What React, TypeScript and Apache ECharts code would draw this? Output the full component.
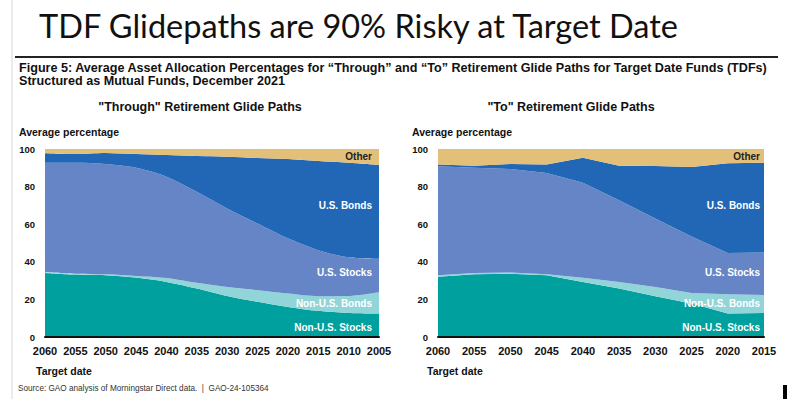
import React, { useEffect, useRef } from "react";
import * as echarts from "echarts";

const throughYears = ["2060", "2055", "2050", "2045", "2040", "2035", "2030", "2025", "2020", "2015", "2010", "2005"];
const throughNonUSStocks = [34.1, 33.2, 32.9, 31.6, 29.3, 25.8, 21.8, 18.7, 16.0, 13.9, 12.8, 12.5];
const throughNonUSBonds = [0.5, 0.5, 0.5, 0.9, 2.1, 3.0, 4.8, 6.2, 7.1, 7.8, 9.0, 11.3];
const throughUSStocks = [58.1, 59.0, 58.6, 57.5, 53.9, 48.5, 41.8, 35.5, 29.4, 24.5, 20.6, 17.8];
const throughUSBonds = [5.0, 4.6, 5.9, 7.3, 11.5, 19.0, 27.5, 34.8, 42.2, 47.4, 50.3, 49.9];
const throughOther = [2.3, 2.7, 2.1, 2.7, 3.2, 3.7, 4.1, 4.8, 5.3, 6.4, 7.3, 8.5];

const toYears = ["2060", "2055", "2050", "2045", "2040", "2035", "2030", "2025", "2020", "2015"];
const toNonUSStocks = [32.0, 33.4, 33.7, 32.9, 29.3, 25.8, 21.7, 17.8, 12.5, 12.8];
const toNonUSBonds = [0.9, 0.7, 0.6, 0.5, 2.2, 3.5, 4.9, 5.6, 10.2, 9.6];
const toUSStocks = [57.9, 55.9, 55.0, 53.8, 50.5, 43.5, 36.4, 30.1, 22.0, 22.5];
const toUSBonds = [1.0, 1.1, 2.7, 4.5, 13.3, 18.3, 27.9, 36.9, 47.7, 47.8];
const toOther = [8.2, 8.9, 8.0, 8.3, 4.7, 8.9, 9.1, 9.6, 7.6, 7.3];

const seriesNames = ["Non-U.S. Stocks", "Non-U.S. Bonds", "U.S. Stocks", "U.S. Bonds", "Other"];
const yTicks = [0, 20, 40, 60, 80, 100];

const COLORS = ["#00A09E", "#92D5D8", "#6685C6", "#2167B5", "#E3C07A"];
const FONT = "'Liberation Sans', Arial, sans-serif";

export default function App() {
  const ref = useRef<HTMLDivElement>(null);

  useEffect(() => {
    if (!ref.current) return;
    const chart = echarts.init(ref.current, undefined, { renderer: "svg" });

    const throughData = [throughNonUSStocks, throughNonUSBonds, throughUSStocks, throughUSBonds, throughOther];
    const toData = [toNonUSStocks, toNonUSBonds, toUSStocks, toUSBonds, toOther];

    const mkSeries = (data: number[][], idx: number, stack: string, smooth: number | boolean) =>
      data.map((vals, i) => ({
        type: "line",
        name: seriesNames[i],
        xAxisIndex: idx,
        yAxisIndex: idx,
        stack,
        smooth,
        data: vals,
        showSymbol: false,
        symbol: "none",
        lineStyle: { width: 0 },
        areaStyle: { color: COLORS[i], opacity: 1 },
        itemStyle: { color: COLORS[i] },
        silent: true,
      }));

    const xAxisBase = (cats: string[], idx: number) => ({
      type: "category",
      gridIndex: idx,
      data: cats,
      boundaryGap: false,
      z: 10,
      axisTick: { show: false },
      axisLine: { show: true, lineStyle: { color: "#111", width: 2 } },
      axisLabel: { interval: 0, margin: 8, color: "#111", fontSize: 11, fontWeight: "bold", fontFamily: FONT },
      splitLine: { show: false },
    });

    const yAxisBase = (idx: number) => ({
      type: "value",
      gridIndex: idx,
      min: yTicks[0],
      max: yTicks[yTicks.length - 1],
      interval: yTicks[1] - yTicks[0],
      axisLine: { show: false },
      axisTick: { show: false },
      splitLine: { show: false },
      axisLabel: { margin: 10, color: "#111", fontSize: 9.5, fontWeight: "bold", fontFamily: FONT },
    });

    const txt = (text: string, x: number, y: number, size: number, opts: any = {}) => ({
      type: "text",
      x,
      y,
      silent: true,
      style: {
        text,
        fill: opts.fill || "#111",
        fontSize: size,
        fontWeight: opts.weight || "bold",
        fontFamily: opts.family || FONT,
        align: opts.align || "left",
        verticalAlign: opts.valign || "middle",
      },
      z: 100,
    });

    const inLabels = (rightX: number) => [
      txt("Other", rightX, 156, 10, { align: "right", fill: "#222" }),
      txt("U.S. Bonds", rightX, 205, 10, { align: "right", fill: "#fff" }),
      txt("U.S. Stocks", rightX, 272, 10, { align: "right", fill: "#fff" }),
      txt("Non-U.S. Bonds", rightX, 303, 10, { align: "right", fill: "#fff" }),
      txt("Non-U.S. Stocks", rightX, 327, 10, { align: "right", fill: "#fff" }),
    ];

    chart.setOption({
      animation: false,
      backgroundColor: "#fff",
      grid: [
        { left: 45, top: 149, width: 334, height: 188 },
        { left: 438, top: 149, width: 326, height: 188 },
      ],
      xAxis: [xAxisBase(throughYears, 0), xAxisBase(toYears, 1)],
      yAxis: [yAxisBase(0), yAxisBase(1)],
      series: [...mkSeries(throughData, 0, "through", 0.3), ...mkSeries(toData, 1, "to", false)],
      graphic: [
        { type: "line", shape: { x1: 12, y1: 0, x2: 12, y2: 399 }, style: { stroke: "#d8d8d8", lineWidth: 1 }, silent: true },
        txt("TDF Glidepaths are 90% Risky at Target Date", 39, 25, 32.5, { weight: "normal", family: "Lato, 'Noto Sans', sans-serif", fill: "#111" }),
        { type: "line", shape: { x1: 15, y1: 57, x2: 778, y2: 57 }, style: { stroke: "#222", lineWidth: 2 }, silent: true },
        txt("Figure 5: Average Asset Allocation Percentages for \u201CThrough\u201D and \u201CTo\u201D Retirement Glide Paths for Target Date Funds (TDFs)", 19, 68, 12.6),
        txt("Structured as Mutual Funds, December 2021", 19, 81, 12.6),
        txt("\"Through\" Retirement Glide Paths", 200, 107, 12.5, { align: "center" }),
        txt("\"To\" Retirement Glide Paths", 571, 107, 12.5, { align: "center" }),
        txt("Average percentage", 19, 132, 10.5),
        txt("Average percentage", 412, 132, 10.5),
        txt("Target date", 36, 371, 10.5),
        txt("Target date", 427, 371, 10.5),
        txt("Source: GAO analysis of Morningstar Direct data.  |  GAO-24-105364", 18, 388, 8.2, { weight: "normal", fill: "#333" }),
        ...inLabels(372),
        ...inLabels(760),
        { type: "rect", shape: { x: 783, y: 385, width: 4, height: 14 }, style: { fill: "#000" }, silent: true },
      ],
    });

    return () => chart.dispose();
  }, []);

  return (
    <div
      ref={ref}
      style={{ position: "fixed", left: 0, top: 0, width: 787, height: 399, background: "#fff" }}
    />
  );
}
